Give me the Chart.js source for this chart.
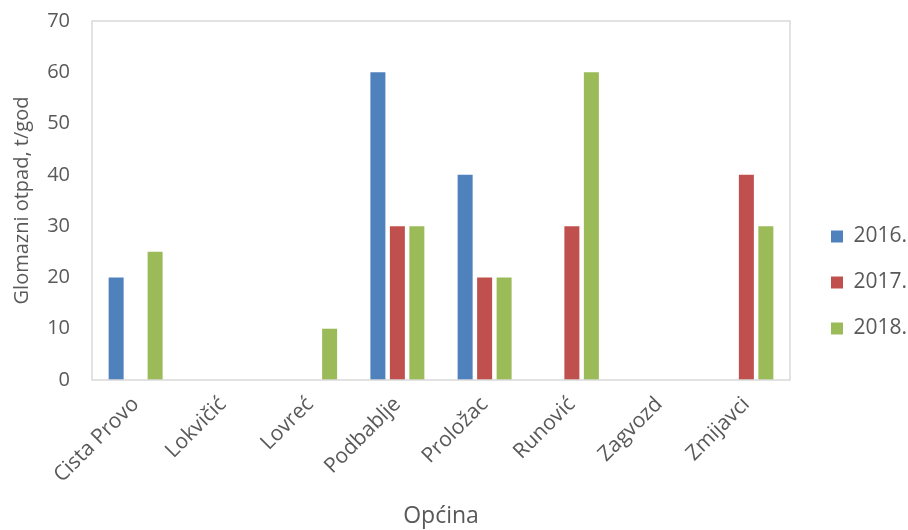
<!DOCTYPE html>
<html>
<head>
<meta charset="utf-8">
<script src="https://cdn.jsdelivr.net/npm/chart.js@4.4.1/dist/chart.umd.min.js"></script>
<style>
  html, body { margin: 0; padding: 0; background: #fff; }
  #wrap { width: 908px; height: 530px; }
</style>
</head>
<body>
<div id="wrap"><canvas id="grafico"></canvas></div>
<script>
const opcine = ["Cista Provo", "Lokvičić", "Lovreć", "Podbablje", "Proložac", "Runović", "Zagvozd", "Zmijavci"];
const god2016 = [20, 0, 0, 60, 40, 0, 0, 0];
const god2017 = [0, 0, 0, 30, 20, 30, 0, 40];
const god2018 = [25, 0, 10, 30, 20, 60, 0, 30];
const yTicks = [0, 10, 20, 30, 40, 50, 60, 70];

const sivo = "#595959";
const font = "'Open Sans', 'DejaVu Sans', sans-serif";

// okvir oko podrucja grafa
const okvir = {
  id: "okvir",
  afterDraw(chart) {
    const a = chart.chartArea;
    const ctx = chart.ctx;
    ctx.save();
    ctx.strokeStyle = "#d9d9d9";
    ctx.lineWidth = 1.5;
    ctx.strokeRect(a.left, a.top, a.right - a.left, a.bottom - a.top);
    ctx.restore();
  }
};

// legenda malo udesno od grafa
const pomakLegende = {
  id: "pomakLegende",
  afterLayout(chart) {
    if (!chart.legend) return;
    chart.legend.left += 16;
    chart.legend.right += 16;
  }
};

const ctx = document.getElementById("grafico").getContext("2d");
new Chart(ctx, {
  type: "bar",
  data: {
    labels: opcine,
    datasets: [
      { label: "2016.", data: god2016, backgroundColor: "#4F81BD" },
      { label: "2017.", data: god2017, backgroundColor: "#C0504D" },
      { label: "2018.", data: god2018, backgroundColor: "#9BBB59" }
    ]
  },
  options: {
    responsive: true,
    maintainAspectRatio: false,
    animation: false,
    datasets: { bar: { categoryPercentage: 0.67, barPercentage: 0.77 } },
    layout: { padding: { top: 21, right: 0, bottom: 0, left: 0 } },
    plugins: {
      tooltip: { enabled: false },
      legend: {
        position: "right",
        title: {
          display: true,
          text: " ",
          font: { size: 10 },
          padding: { top: 2, bottom: 0 }
        },
        labels: {
          font: { family: font, size: 21 },
          color: sivo,
          boxWidth: 12,
          boxHeight: 12,
          padding: 25
        }
      }
    },
    scales: {
      x: {
        grid: { display: false },
        border: { display: false },
        ticks: {
          font: { family: font, size: 21 },
          color: sivo,
          minRotation: 45,
          maxRotation: 45,
          padding: 4
        },
        title: {
          display: true,
          text: "Općina",
          font: { family: font, size: 23 },
          color: sivo,
          padding: { top: 0, bottom: 0 }
        },
        afterFit(scale) {
          scale.height = 150;
          scale.paddingRight = 118;
        }
      },
      y: {
        min: 0,
        max: 70,
        grid: { display: false },
        border: { display: false },
        afterBuildTicks(scale) { scale.ticks = yTicks.map(v => ({ value: v })); },
        ticks: {
          font: { family: font, size: 20 },
          color: sivo,
          padding: 14
        },
        title: {
          display: true,
          text: "Glomazni otpad, t/god",
          font: { family: font, size: 20 },
          color: sivo,
          padding: { top: 10, bottom: 0 }
        },
        afterFit(scale) {
          scale.width = 92;
          scale.paddingTop = 0;
        }
      }
    }
  },
  plugins: [okvir, pomakLegende]
});
</script>
</body>
</html>
